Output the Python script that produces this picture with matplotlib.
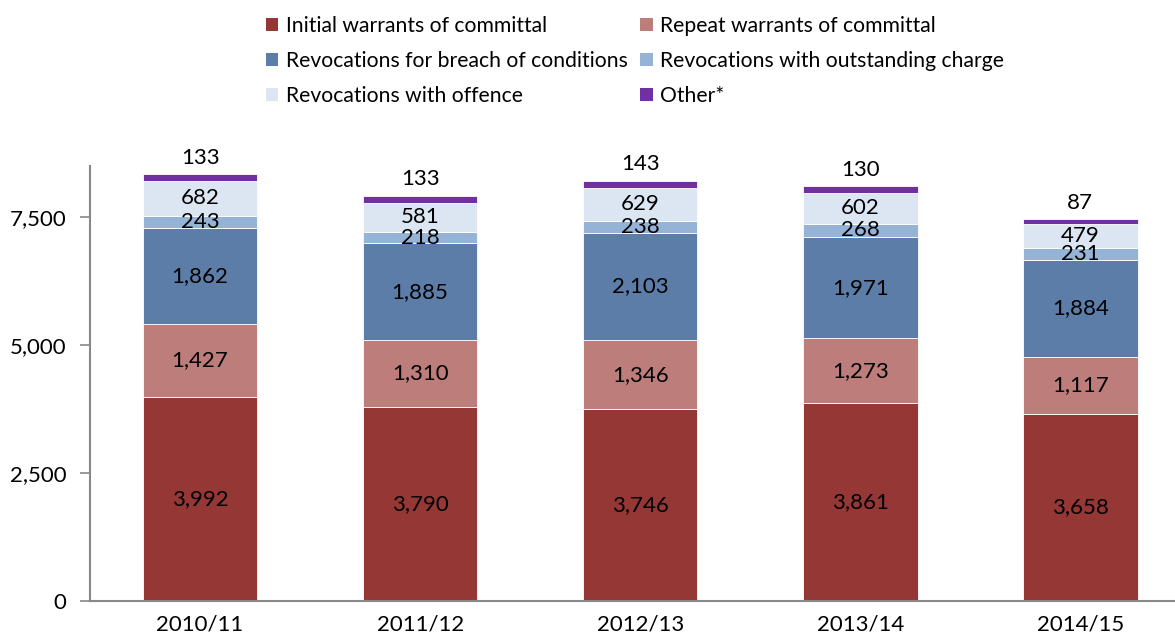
import matplotlib

matplotlib.use("Agg")
import matplotlib.pyplot as plt
import numpy as np
from matplotlib.patches import Patch

years = ["2010/11", "2011/12", "2012/13", "2013/14", "2014/15"]
initial = [3992, 3790, 3746, 3861, 3658]
repeat = [1427, 1310, 1346, 1273, 1117]
breach = [1862, 1885, 2103, 1971, 1884]
outstanding = [243, 218, 238, 268, 231]
offence = [682, 581, 629, 602, 479]
other = [133, 133, 143, 130, 87]

series = [
    ("Initial warrants of committal", initial, "#953735"),
    ("Repeat warrants of committal", repeat, "#BC7D7B"),
    ("Revocations for breach of conditions", breach, "#5B7DA8"),
    ("Revocations with outstanding charge", outstanding, "#95B3D7"),
    ("Revocations with offence", offence, "#DCE6F2"),
    ("Other*", other, "#7030A0"),
]

plt.rcParams["font.family"] = ["Lato", "DejaVu Sans"]
FS = 16

fig = plt.figure(figsize=(11.75, 6.42), dpi=100)
ax = fig.add_axes([0.0766, 0.0639, 0.9234, 0.6776])

x = np.arange(len(years))
bottom = np.zeros(len(years))
for name, vals, col in series:
    vals = np.array(vals)
    ax.bar(x, vals, 0.52, bottom=bottom, color=col, edgecolor="white",
           linewidth=0.6, label=name)
    for xi, b, v in zip(x, bottom, vals):
        txt = f"{v:,}"
        if name == "Other*":
            ax.text(xi, b + v + 130, txt, ha="center", va="bottom", fontsize=FS)
        else:
            ax.text(xi, b + v / 2, txt, ha="center", va="center", fontsize=FS)
    bottom += vals

ax.set_xlim(-0.5, 4.43)
ax.set_ylim(0, 8500)
ax.set_yticks([0, 2500, 5000, 7500])
ax.set_yticklabels(["0", "2,500", "5,000", "7,500"])
ax.set_xticks(x)
ax.set_xticklabels(years)
ax.tick_params(axis="y", labelsize=FS, color="#888888", length=7, width=1.2, pad=10)
ax.tick_params(axis="x", labelsize=FS, length=0, pad=10)
for s in ("top", "right"):
    ax.spines[s].set_visible(False)
for s in ("left", "bottom"):
    ax.spines[s].set_color("#888888")
    ax.spines[s].set_linewidth(1.5)

# legend filled column-wise, so reorder to read row-wise like the original
order = [0, 2, 4, 1, 3, 5]
handles = [Patch(facecolor=series[i][2], label=series[i][0]) for i in order]
fig.legend(handles=handles, loc="upper left", bbox_to_anchor=(0.21, 1.005),
           ncol=2, frameon=False, fontsize=15.2, handlelength=0.6,
           handleheight=0.6, handletextpad=0.35, columnspacing=0.6,
           labelspacing=0.72)

fig.savefig("out.png", dpi=100)
